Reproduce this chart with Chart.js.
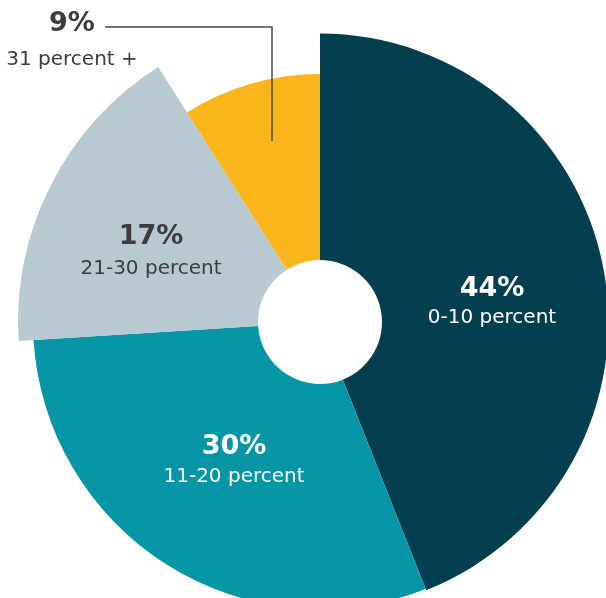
<!DOCTYPE html>
<html>
<head>
<meta charset="utf-8">
<script src="https://cdn.jsdelivr.net/npm/chart.js@4/dist/chart.umd.min.js"></script>
<style>
  html, body { margin: 0; padding: 0; background: #fff; }
  #wrap { width: 606px; height: 598px; }
</style>
</head>
<body>
<div id="wrap"><canvas id="myChart" width="606" height="598"></canvas></div>
<script>
// data
const categories = ['0-10 percent', '11-20 percent', '21-30 percent', '31 percent +'];
const shares = [44, 30, 17, 9];

// look
const sliceColors = ['#043f50', '#0796a6', '#b8c9d1', '#f9b519'];
const textColors = ['#ffffff', '#ffffff', '#3d3d3d', '#3d3d3d'];
// each slice is drawn a bit longer or shorter than the base radius
const radiusScale = [1.045, 1.04, 1.094, 0.899];
// label offsets from the centre of the pie, and gap between the two lines
const labelOffset = [[172, -33], [-86, 125], [-169, -85], [-248, -298]];
const lineGap = [29, 30, 32, 36];

const FONT = '"DejaVu Sans", sans-serif';

const varRadius = {
	id: 'varRadius',
	afterDatasetsUpdate(chart) {
		chart.getDatasetMeta(0).data.forEach((arc, i) => {
			arc.outerRadius = arc.outerRadius * radiusScale[i];
		});
	}
};

const sliceLabels = {
	id: 'sliceLabels',
	afterDraw(chart) {
		const ctx = chart.ctx;
		const arcs = chart.getDatasetMeta(0).data;
		ctx.save();
		ctx.textAlign = 'center';
		ctx.textBaseline = 'middle';
		arcs.forEach((arc, i) => {
			const x = arc.x + labelOffset[i][0];
			const y = arc.y + labelOffset[i][1];
			ctx.fillStyle = textColors[i];
			ctx.font = 'bold 27px ' + FONT;
			ctx.fillText(shares[i] + '%', x, y);
			ctx.font = '20px ' + FONT;
			ctx.fillText(categories[i], x, y + lineGap[i]);
		});

		// leader line for the small slice
		const last = arcs[arcs.length - 1];
		const lx = last.x + labelOffset[3][0];
		const ly = last.y + labelOffset[3][1];
		ctx.strokeStyle = '#4a4a4a';
		ctx.lineWidth = 1.5;
		ctx.beginPath();
		ctx.moveTo(lx + 33, ly + 3);
		ctx.lineTo(last.x - 48, ly + 3);
		ctx.lineTo(last.x - 48, last.y - 181);
		ctx.stroke();
		ctx.restore();
	}
};

new Chart(document.getElementById('myChart'), {
	type: 'doughnut',
	data: {
		labels: categories,
		datasets: [{
			data: shares,
			backgroundColor: sliceColors,
			borderWidth: 0,
			hoverOffset: 0
		}]
	},
	options: {
		responsive: false,
		animation: false,
		cutout: 62,
		layout: { padding: { left: 34, top: 46, right: 0, bottom: 0 } },
		plugins: {
			legend: { display: false },
			tooltip: { enabled: false }
		},
		events: []
	},
	plugins: [varRadius, sliceLabels]
});
</script>
</body>
</html>
